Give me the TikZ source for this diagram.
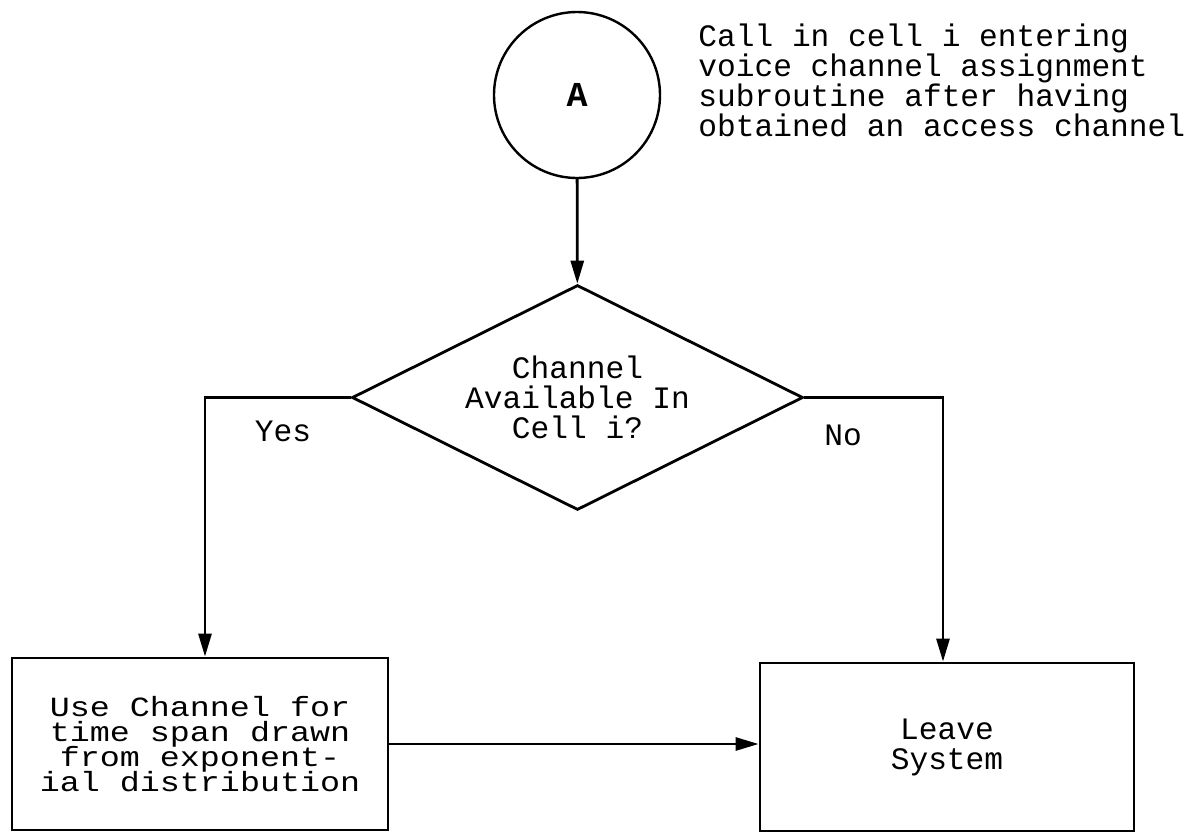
\documentclass[tikz,border=0pt]{standalone}
\usepackage{fontspec}
\setmonofont{Liberation Mono}
\newfontfamily\wideface[FakeStretch=1.2]{Liberation Mono}
\newcommand\tightlines{\lineskiplimit=-20pt\relax}
\usetikzlibrary{arrows.meta,positioning,shapes.geometric}

\begin{document}
\begin{tikzpicture}[x=0.5pt,y=-0.5pt,line width=1.4pt,
  >={Triangle[length=11.5pt,width=6.5pt]},
  every node/.style={font=\ttfamily\fontsize{15.6}{15}\selectfont\tightlines,align=center},
  connector/.style={circle,draw,line width=1.2pt,minimum size=83pt,inner sep=0pt},
  decision/.style={diamond,draw,aspect=2,inner sep=0pt,minimum width=225.5pt,minimum height=112.5pt},
  process/.style={rectangle,draw,inner sep=0pt,minimum width=187pt,minimum height=84pt},
  widetext/.style={font=\wideface\fontsize{13.9}{12.5}\selectfont\tightlines}]
\useasboundingbox (0,0) rectangle (1201,835);
\node[connector] (A) at (577,95) {\bfseries\fontsize{17.5}{17.5}\selectfont A};
\node[anchor=west,align=left,inner sep=0pt] (note) at (697,80) {Call in cell i entering\\voice channel assignment\\subroutine after having\\obtained an access channel};
\node[decision] (avail) at (577.5,397.5) {Channel\\Available In\\Cell i?};
\node[process,widetext,minimum width=188pt,minimum height=86pt] (use) at (200,744) {Use Channel for\\time span drawn\\from exponent-\\ial distribution};
\node[process] (leave) at (947,747) {Leave\\System};
\node (yes) at (283,431) {Yes};
\node (no) at (843,435) {No};
\draw[->] (A)--(avail);
\draw[->] (avail.west) -| ([xshift=2.5pt]use.north);
\draw[->] (avail.east) -| ([xshift=-2pt]leave.north);
\draw[->] (use.east)--(use.east -| leave.west);
\end{tikzpicture}
\end{document}
